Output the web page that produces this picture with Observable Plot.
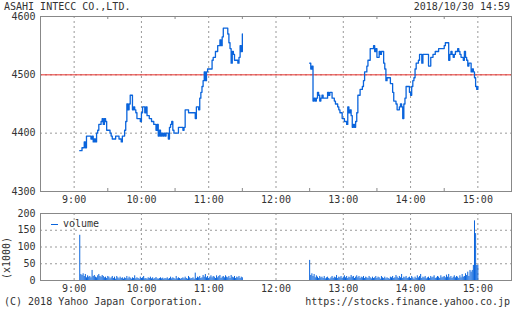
<!DOCTYPE html>
<html><head><meta charset="utf-8">
<script src="https://cdn.jsdelivr.net/npm/d3@7"></script>
<script src="https://cdn.jsdelivr.net/npm/@observablehq/plot@0.6"></script>
<style>
body{margin:0;background:#fff;}
#wrap{position:relative;width:512px;height:310px;overflow:hidden;font-family:"DejaVu Sans Mono",monospace;font-size:10px;color:#333;}
.t{position:absolute;white-space:pre;line-height:12px;}
#wrap svg{position:absolute;left:0;overflow:visible;}
</style></head><body>
<div id="wrap"></div>
<script>
// ---- text ----
const titleText = "ASAHI INTECC CO.,LTD.";
const dateText = "2018/10/30 14:59";
const copyText = "(C) 2018 Yahoo Japan Corporation.";
const urlText = "https://stocks.finance.yahoo.co.jp";
const volumeLegend = "volume";
const volumeUnit = "(x1000)";

// ---- axes (minutes after 9:00) ----
const xDomain = [-30, 390];
const hourTicks = [0, 60, 120, 180, 240, 300, 360];
const hourLabels = ["9:00", "10:00", "11:00", "12:00", "13:00", "14:00", "15:00"];
const halfHours = [30, 90, 150, 210, 270, 330];
const priceTicks = [4300, 4400, 4500, 4600];
const refPrice = 4500;
const volTicks = [0, 50, 100, 150, 200];

// ---- data: one value per minute ----
const morningStart = 5;    // 9:05
const afternoonStart = 210; // 12:30
const morningPrice = [
 4370,4370,4375,4375,4385,4375,4395,4395,4395,4395,
 4390,4395,4385,4390,4385,4400,4405,4415,4415,4420,
 4425,4415,4425,4420,4405,4405,4405,4400,4395,4390,
 4390,4390,4395,4395,4395,4390,4390,4385,4395,4395,
 4405,4420,4450,4440,4450,4465,4465,4440,4445,4440,
 4435,4425,4425,4425,4420,4435,4445,4445,4435,4445,
 4430,4430,4425,4425,4420,4420,4415,4415,4405,4415,
 4395,4405,4395,4400,4395,4400,4395,4400,4400,4390,
 4410,4415,4420,4405,4400,4400,4400,4400,4410,4410,
 4410,4410,4405,4410,4440,4440,4440,4435,4435,4435,
 4435,4435,4435,4425,4445,4445,4440,4460,4470,4480,
 4490,4505,4490,4505,4510,4510,4510,4510,4525,4530,
 4530,4540,4540,4550,4550,4560,4550,4565,4580,4580,
 4580,4580,4570,4555,4545,4520,4540,4535,4525,4525,
 4525,4520,4530,4550,4540,4570
];
const afternoonPrice = [
 4520,4510,4515,4455,4460,4455,4460,4470,4465,4455,
 4460,4465,4460,4460,4460,4460,4470,4465,4470,4470,
 4460,4460,4455,4450,4450,4445,4440,4435,4435,4425,
 4425,4420,4420,4415,4445,4435,4440,4430,4410,4415,
 4410,4420,4435,4465,4465,4475,4475,4480,4490,4505,
 4505,4515,4525,4525,4545,4545,4545,4550,4540,4545,
 4530,4530,4540,4535,4540,4540,4520,4510,4490,4495,
 4495,4495,4485,4485,4470,4455,4455,4450,4440,4440,
 4445,4450,4445,4425,4450,4460,4480,4480,4480,4470,
 4465,4480,4490,4495,4510,4520,4520,4525,4535,4535,
 4520,4535,4535,4535,4535,4535,4515,4515,4530,4530,
 4535,4535,4540,4540,4540,4545,4545,4545,4545,4545,
 4550,4555,4555,4555,4525,4535,4540,4535,4530,4535,
 4540,4540,4545,4540,4535,4530,4530,4525,4540,4530,
 4525,4515,4520,4520,4505,4510,4505,4495,4480,4475,
 4480
];
const morningVolume = [
 135,18,15,20,12,18,8,14,10,12,
 8,30,12,15,10,8,14,18,12,10,
 15,12,8,10,6,12,10,5,8,12,
 6,10,4,12,8,5,10,6,8,4,
 8,6,12,5,10,7,4,8,6,14,
 5,8,6,4,10,6,8,12,5,6,
 4,8,6,10,5,8,4,6,9,5,
 4,6,8,5,7,4,6,5,8,4,
 6,10,5,8,6,4,12,5,8,6,
 4,6,8,5,10,6,4,12,8,5,
 6,8,4,22,6,10,8,12,6,8,
 15,10,18,8,12,6,10,14,8,12,
 10,6,14,8,12,15,6,10,12,8,
 14,10,8,12,6,15,10,8,12,6,
 10,8,12,6,10,8
];
const afternoonVolume = [
 60,15,20,12,18,8,14,10,6,12,
 8,10,6,12,5,8,10,6,4,8,
 12,6,10,8,15,6,10,8,12,6,
 10,14,8,12,6,10,8,15,10,12,
 6,10,14,8,12,6,10,8,12,6,
 10,8,6,12,8,5,10,6,8,12,
 6,10,8,4,12,8,6,10,5,8,
 6,4,10,8,12,6,8,15,10,6,
 12,8,18,6,10,8,12,6,8,10,
 6,12,8,4,10,6,14,8,12,18,
 6,10,8,12,5,8,10,6,12,8,
 10,14,6,8,12,10,6,14,8,10,
 12,8,16,10,18,8,12,6,10,14,
 8,12,10,6,14,8,18,10,12,20,
 15,25,12,30,25,30,45,178,140,45,
 45
];

// ---- style ----
const FONT = '"DejaVu Sans Mono", monospace';
const BLUE = "#0a64dc";
const RED = "#e8302c";
const FRAME = "#888";
const GRID = "#999";
const TEXT = "#333";

const priceRows = [
  ...morningPrice.map((p, i) => ({t: morningStart + i, p, s: "am"})),
  ...afternoonPrice.map((p, i) => ({t: afternoonStart + i, p, s: "pm"}))
];
const volRows = [
  ...morningVolume.map((v, i) => ({t: morningStart + i, v})),
  ...afternoonVolume.map((v, i) => ({t: afternoonStart + i, v}))
];
const fmtHour = d => hourLabels[hourTicks.indexOf(d)];
const fmtNum = d => String(d);
const style = {fontFamily: FONT, fontSize: "10px", color: TEXT, background: "transparent", overflow: "visible"};

const priceH = 207, pTop = 16, pBottom = 16;
const pFrameH = priceH - pTop - pBottom;
const price = Plot.plot({
  width: 512, height: priceH, marginTop: pTop, marginBottom: pBottom, marginLeft: 40, marginRight: 1,
  style,
  x: {domain: xDomain, label: null},
  y: {domain: [priceTicks[0], priceTicks[priceTicks.length - 1]], label: null},
  marks: [
    Plot.ruleY(priceTicks, {stroke: GRID, strokeDasharray: "2,3"}),
    Plot.ruleX(hourTicks, {stroke: GRID, strokeDasharray: "2,3"}),
    Plot.ruleY([refPrice], {stroke: RED, strokeWidth: 1}),
    Plot.line(priceRows, {x: "t", y: "p", z: "s", curve: "step-after", stroke: BLUE, strokeWidth: 1.3}),
    Plot.ruleX(halfHours, {stroke: FRAME, insetBottom: pFrameH - 3}),
    Plot.ruleX(halfHours, {stroke: FRAME, insetTop: pFrameH - 3}),
    Plot.frame({stroke: FRAME}),
    Plot.axisY(priceTicks, {tickSize: 0, tickPadding: 5, tickFormat: fmtNum, fill: TEXT, label: null}),
    Plot.axisX(hourTicks, {tickSize: 0, tickPadding: 4, tickFormat: fmtHour, fill: TEXT, label: null})
  ]
});

const volH = 100, vTop = 16, vBottom = 17;
const vol = Plot.plot({
  width: 512, height: volH, marginTop: vTop, marginBottom: vBottom, marginLeft: 40, marginRight: 1,
  style,
  x: {domain: xDomain, label: null},
  y: {domain: [volTicks[0], volTicks[volTicks.length - 1]], label: null},
  marks: [
    Plot.ruleY(volTicks, {stroke: GRID, strokeDasharray: "2,3"}),
    Plot.ruleX(hourTicks, {stroke: GRID, strokeDasharray: "2,3"}),
    Plot.ruleX(volRows, {x: "t", y1: 0, y2: "v", stroke: BLUE, strokeWidth: 1}),
    Plot.frame({stroke: FRAME}),
    Plot.axisY(volTicks, {tickSize: 0, tickPadding: 5, tickFormat: fmtNum, fill: TEXT, label: null}),
    Plot.axisX(hourTicks, {tickSize: 0, tickPadding: 4, tickFormat: fmtHour, fill: TEXT, label: null})
  ]
});

const wrap = document.getElementById("wrap");
price.style.top = "0px";
vol.style.top = "197px";
wrap.appendChild(price);
wrap.appendChild(vol);

function addText(txt, css) {
  const d = document.createElement("div");
  d.className = "t";
  d.textContent = txt;
  d.setAttribute("style", css);
  wrap.appendChild(d);
  return d;
}
addText(titleText, "left:4px;top:1px;");
addText(dateText, "right:2px;top:1px;");
addText(copyText, "left:4px;top:296px;");
addText(urlText, "right:2px;top:296px;");
addText(volumeLegend, "left:63px;top:218px;");
const sw = document.createElement("div");
sw.setAttribute("style", `position:absolute;left:51px;top:224px;width:7px;height:1px;background:${BLUE};`);
wrap.appendChild(sw);
addText(volumeUnit, "left:7px;top:258px;transform:translate(-50%,-50%) rotate(-90deg);");
</script>
</body></html>
